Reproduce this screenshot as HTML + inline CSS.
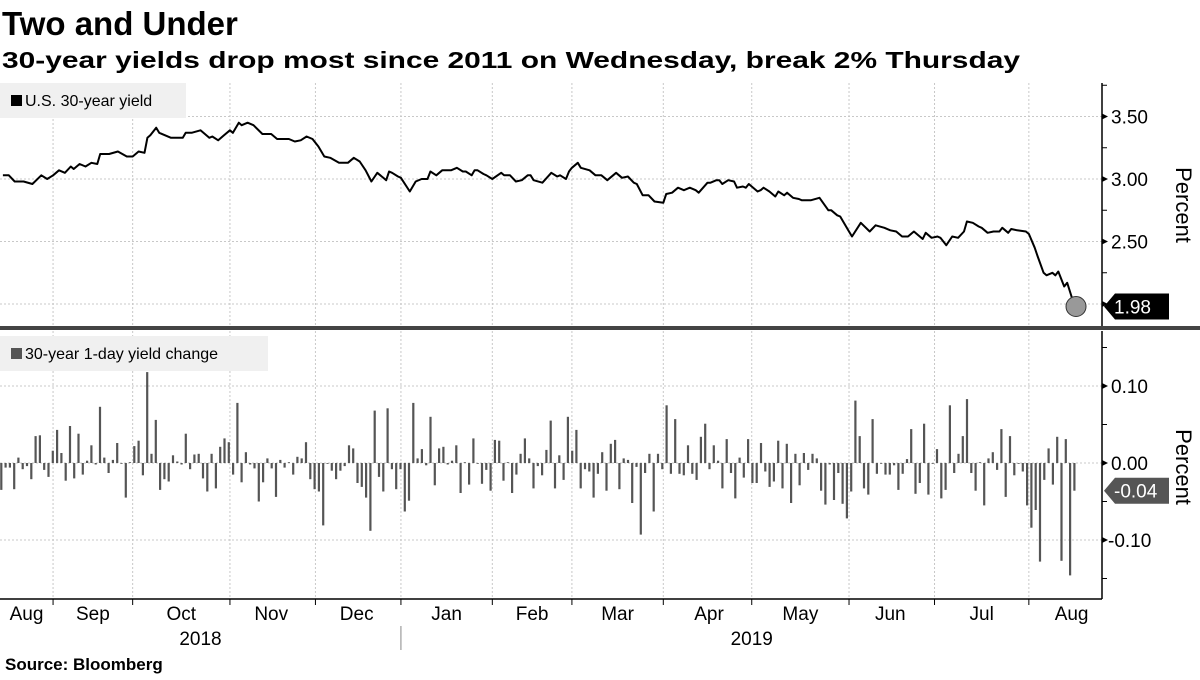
<!DOCTYPE html>
<html><head><meta charset="utf-8">
<style>
html,body{margin:0;padding:0;background:#fff;}
body{width:1200px;height:675px;overflow:hidden;font-family:"Liberation Sans","DejaVu Sans",sans-serif;}
</style></head>
<body>
<svg id="chart" width="1200" height="675" viewBox="0 0 1200 675" xmlns="http://www.w3.org/2000/svg" font-family="Liberation Sans, DejaVu Sans, sans-serif">
<text x="2" y="35" font-size="33" font-weight="bold" fill="#000">Two and Under</text>
<text x="2" y="68" font-size="23" font-weight="bold" fill="#000" textLength="1018" lengthAdjust="spacingAndGlyphs">30-year yields drop most since 2011 on Wednesday, break 2% Thursday</text>
<g id="grid"></g>
<g id="topPanel"></g>
<g id="bottomPanel"></g>
<g id="axes"></g>
<text x="5" y="670" font-size="17" font-weight="bold" fill="#000">Source: Bloomberg</text>
</svg>
<script>
// ---- data ----
const yieldDays = [1,3,5,8,11,14,16,18,20,22,24,25,27,29,31,33,34,37,40,43,45,47,49,50,51,53,54,58,62,63,65,68,71,72,74,76,78,79,81,82,84,86,89,92,94,98,100,102,104,106,108,110,112,115,118,120,122,124,126,128,131,132,133,135,136,139,141,143,145,146,148,150,153,155,157,158,160,161,162,164,165,167,170,171,173,175,177,179,180,181,184,187,189,190,192,193,194,196,197,200,202,204,206,209,211,213,215,216,218,220,222,225,226,228,230,232,234,236,237,240,241,243,244,245,247,249,250,252,253,254,257,258,259,261,263,264,266,267,269,271,272,275,278,281,282,284,285,288,289,292,295,297,300,302,304,306,308,310,313,314,316,318,319,321,323,325,327,328,330,332,333,335,337,339,340,342,343,345,348,349,351,352,354,355,357,358,359,361,362,364,365];
const yieldValues = [3.03,3.03,2.98,2.98,2.96,3.03,3.00,3.03,3.07,3.05,3.10,3.08,3.12,3.10,3.13,3.12,3.20,3.20,3.22,3.18,3.18,3.22,3.21,3.33,3.35,3.41,3.37,3.33,3.33,3.37,3.37,3.39,3.33,3.34,3.31,3.35,3.39,3.37,3.45,3.43,3.45,3.43,3.36,3.36,3.32,3.32,3.30,3.31,3.34,3.32,3.26,3.18,3.17,3.13,3.13,3.17,3.14,3.07,2.98,3.05,2.99,3.06,3.05,3.02,3.01,2.90,2.98,3.00,3.00,3.06,3.03,3.07,3.07,3.09,3.06,3.06,3.03,3.07,3.07,3.04,3.03,3.00,3.05,3.03,3.03,2.98,2.99,3.03,3.03,2.99,2.97,3.05,3.02,3.03,3.00,3.06,3.09,3.13,3.09,3.07,3.03,3.03,2.99,3.05,3.01,3.02,2.97,2.96,2.87,2.87,2.82,2.81,2.88,2.89,2.93,2.91,2.93,2.91,2.89,2.97,2.97,2.99,2.99,2.96,2.99,2.98,2.93,2.94,2.93,2.96,2.90,2.91,2.93,2.90,2.86,2.90,2.87,2.89,2.85,2.84,2.83,2.83,2.85,2.75,2.75,2.71,2.70,2.58,2.54,2.65,2.58,2.63,2.61,2.59,2.58,2.54,2.54,2.58,2.52,2.57,2.53,2.54,2.53,2.47,2.54,2.53,2.58,2.66,2.65,2.62,2.61,2.57,2.58,2.58,2.61,2.57,2.60,2.59,2.58,2.56,2.45,2.38,2.25,2.23,2.25,2.23,2.26,2.14,2.17,2.02,1.98];
const changeValues = [-0.035,-0.006,-0.006,-0.034,0.007,-0.008,-0.004,-0.021,0.035,0.036,-0.009,-0.018,0.016,0.043,0.013,-0.023,0.048,-0.020,0.038,-0.015,0.003,0.023,-0.002,0.073,0.007,-0.013,0.004,0.026,-0.001,-0.045,0.001,0.022,0.029,-0.016,0.118,0.012,0.056,-0.035,-0.021,-0.024,0.010,0.002,-0.002,0.038,-0.008,0.011,0.012,-0.020,-0.037,0.012,-0.033,0.021,0.032,0.027,-0.015,0.078,-0.025,0.014,-0.002,-0.007,-0.050,-0.025,0.006,-0.007,-0.044,0.004,-0.006,0.001,-0.015,0.008,0.006,0.027,-0.021,-0.034,-0.037,-0.081,0.000,-0.010,-0.021,-0.010,-0.004,0.023,0.019,-0.026,-0.031,-0.045,
-0.088,0.068,-0.018,-0.037,0.071,-0.008,-0.034,-0.008,-0.063,-0.049,0.078,0.006,0.018,-0.003,0.060,-0.029,0.019,0.021,-0.002,0.003,0.023,-0.039,0.001,-0.028,0.032,-0.001,-0.027,-0.009,-0.036,0.030,0.029,-0.023,0.001,-0.039,-0.015,0.012,0.032,0.006,-0.033,-0.004,-0.016,0.017,0.055,-0.033,0.010,-0.022,0.060,0.016,0.043,-0.033,-0.008,-0.011,-0.045,-0.014,0.014,-0.036,0.025,0.030,-0.034,0.006,0.004,-0.052,-0.005,-0.093,-0.013,0.012,-0.063,0.012,-0.008,0.075,-0.014,0.057,-0.014,-0.016,0.023,-0.014,-0.022,0.034,0.051,-0.008,0.023,0.003,-0.033,0.031,-0.013,
-0.046,0.007,-0.019,0.031,-0.026,-0.026,0.026,-0.011,-0.031,-0.024,0.029,-0.033,0.025,-0.052,0.012,-0.029,0.013,-0.009,0.012,0.006,-0.036,-0.054,-0.002,-0.048,-0.013,-0.053,-0.072,-0.037,0.081,0.035,-0.033,-0.041,0.057,-0.014,-0.001,-0.015,-0.015,-0.003,-0.035,-0.014,0.005,0.044,-0.040,-0.026,0.051,-0.041,0.000,0.018,-0.046,-0.035,0.075,-0.013,0.012,0.035,0.083,-0.013,-0.036,0.001,-0.055,0.006,0.014,-0.009,0.044,-0.044,0.035,-0.016,-0.001,-0.011,-0.055,-0.084,-0.061,-0.128,-0.022,0.019,-0.028,0.034,-0.127,0.031,-0.146,-0.036];
const gridDays = [18,45,78,107,136,167,194,225,255,288,317,349];
const monthLabels = ["Aug","Sep","Oct","Nov","Dec","Jan","Feb","Mar","Apr","May","Jun","Jul","Aug"];
const monthLabelDays = [9,31.5,61.5,92,121,151.5,180.5,209.5,240.5,271.5,302,333,363.5];
const yearLabels = ["2018","2019"];
const yearLabelDays = [68,255];
const yearSplitDay = 136;
const topTicks = [2.0,2.5,3.0,3.5];
const topTickLabels = ["","2.50","3.00","3.50"];
const bottomTicks = [-0.1,0,0.1];
const bottomTickLabels = ["-0.10","0.00","0.10"];
const lastYieldLabel = "1.98";
const lastChangeLabel = "-0.04";

// ---- scales ----
const NS="http://www.w3.org/2000/svg";
const X0=0, XPD=2.948, AXX=1102;
const xS = d => X0 + d*XPD;
const yTop = v => 179 - (v-3)*125;
const yBot = v => 463 - v*770;
function mk(tag, attrs, parent){const e=document.createElementNS(NS,tag);for(const k in attrs)e.setAttribute(k,attrs[k]);parent.appendChild(e);return e;}
const gGrid=document.getElementById('grid'), gTop=document.getElementById('topPanel'), gBot=document.getElementById('bottomPanel'), gAxes=document.getElementById('axes');

topTicks.forEach(v=>{const l=mk('line',{x1:0,x2:AXX,y1:yTop(v),y2:yTop(v),stroke:'#c8c8c8','stroke-dasharray':'2,2'},gGrid);

});
bottomTicks.forEach(v=>{const l=mk('line',{x1:0,x2:AXX,y1:yBot(v),y2:yBot(v),stroke:'#c8c8c8','stroke-dasharray':'2,2'},gGrid);

});
gridDays.forEach(d=>{const l=mk('line',{x1:xS(d),x2:xS(d),y1:83,y2:599,stroke:'#c8c8c8','stroke-dasharray':'2,2'},gGrid);


const t=mk('line',{x1:xS(d),x2:xS(d),y1:599,y2:605,stroke:'#000'},gAxes);

});

const lg1=mk('g',{},gTop);


mk('rect',{x:0,y:83,width:186,height:35,fill:'#f0f0f0'},lg1);
mk('rect',{x:11,y:95,width:11,height:11,fill:'#000'},lg1);
const lt1=mk('text',{x:25,y:106,'font-size':16,fill:'#000'},lg1); lt1.textContent='U.S. 30-year yield';
const lg2=mk('g',{},gBot);


mk('rect',{x:0,y:336,width:268,height:35,fill:'#f0f0f0'},lg2);
mk('rect',{x:11,y:348,width:11,height:11,fill:'#555'},lg2);
const lt2=mk('text',{x:25,y:359,'font-size':16,fill:'#000'},lg2); lt2.textContent='30-year 1-day yield change';

let dstr='';
yieldDays.forEach((d,i)=>{dstr+=(i?'L':'M')+xS(d).toFixed(1)+','+yTop(yieldValues[i]).toFixed(1);});
const line=mk('path',{d:dstr,fill:'none',stroke:'#000','stroke-width':2,'stroke-linejoin':'round'},gTop);


const li=yieldDays.length-1;
const dot=mk('circle',{cx:xS(yieldDays[li]),cy:yTop(yieldValues[li]),r:10,fill:'#999',stroke:'#333','stroke-width':1},gTop);



const n=changeValues.length, step=364/(n-1);
changeValues.forEach((v,i)=>{const x=xS(0.4+i*step);const y0=yBot(0),y1=yBot(v);
const b=mk('rect',{x:(x-1).toFixed(1),y:Math.min(y0,y1).toFixed(1),width:2.2,height:Math.max(0.8,Math.abs(y1-y0)).toFixed(1),fill:'#555'},gBot);

});

mk('line',{x1:AXX,x2:AXX,y1:83,y2:326,stroke:'#000','stroke-width':1.5},gAxes);
mk('line',{x1:AXX,x2:AXX,y1:331,y2:599,stroke:'#000','stroke-width':1.5},gAxes);
mk('line',{x1:0,x2:AXX,y1:599,y2:599,stroke:'#000','stroke-width':1.5},gAxes);
const sep=mk('rect',{x:0,y:326,width:1200,height:4,fill:'#444'},gAxes);


[2.25,2.75,3.25,3.75].forEach(v=>mk('line',{x1:AXX,x2:AXX+5,y1:yTop(v),y2:yTop(v),stroke:'#000'},gAxes));
[-0.15,-0.05,0.05,0.15].forEach(v=>mk('line',{x1:AXX,x2:AXX+5,y1:yBot(v),y2:yBot(v),stroke:'#000'},gAxes));
topTicks.forEach((v,i)=>{mk('path',{d:`M${AXX},${yTop(v)-3}L${AXX+6},${yTop(v)}L${AXX},${yTop(v)+3}Z`,fill:'#000'},gAxes);
if(topTickLabels[i]){const t=mk('text',{x:AXX+9,y:yTop(v)+7,'font-size':19,fill:'#000'},gAxes);t.textContent=topTickLabels[i];

}});
bottomTicks.forEach((v,i)=>{mk('path',{d:`M${AXX},${yBot(v)-3}L${AXX+6},${yBot(v)}L${AXX},${yBot(v)+3}Z`,fill:'#000'},gAxes);
const t=mk('text',{x:AXX+(v<0?6:9),y:yBot(v)+7,'font-size':19,fill:'#000'},gAxes);t.textContent=bottomTickLabels[i];

});
[[205,'top-y-axis-title'],[467,'bottom-y-axis-title']].forEach(([cy,nm])=>{const t=mk('text',{x:0,y:0,'font-size':22,fill:'#000','text-anchor':'middle',transform:`translate(1176,${cy}) rotate(90)`},gAxes);t.textContent='Percent';

});

function tag(yc,label,fill,nm){const g=mk('g',{},gAxes);


mk('path',{d:`M${AXX+2},${yc}L${AXX+13},${yc-13}H1169V${yc+13}H${AXX+13}Z`,fill:fill},g);
const t=mk('text',{x:1114,y:yc+7,'font-size':19,fill:'#fff'},g);t.textContent=label;}
tag(yTop(yieldValues[li]),lastYieldLabel,'#000','last-yield-tag');
tag(yBot(changeValues[n-1]),lastChangeLabel,'#555','last-change-tag');

monthLabels.forEach((m,i)=>{const t=mk('text',{x:xS(monthLabelDays[i]),y:620,'font-size':19,fill:'#000','text-anchor':'middle'},gAxes);t.textContent=m;

});
yearLabels.forEach((y,i)=>{const t=mk('text',{x:xS(yearLabelDays[i]),y:645,'font-size':19,fill:'#000','text-anchor':'middle'},gAxes);t.textContent=y;

});
mk('line',{x1:xS(yearSplitDay),x2:xS(yearSplitDay),y1:626,y2:650,stroke:'#888'},gAxes);
</script>
</body></html>
